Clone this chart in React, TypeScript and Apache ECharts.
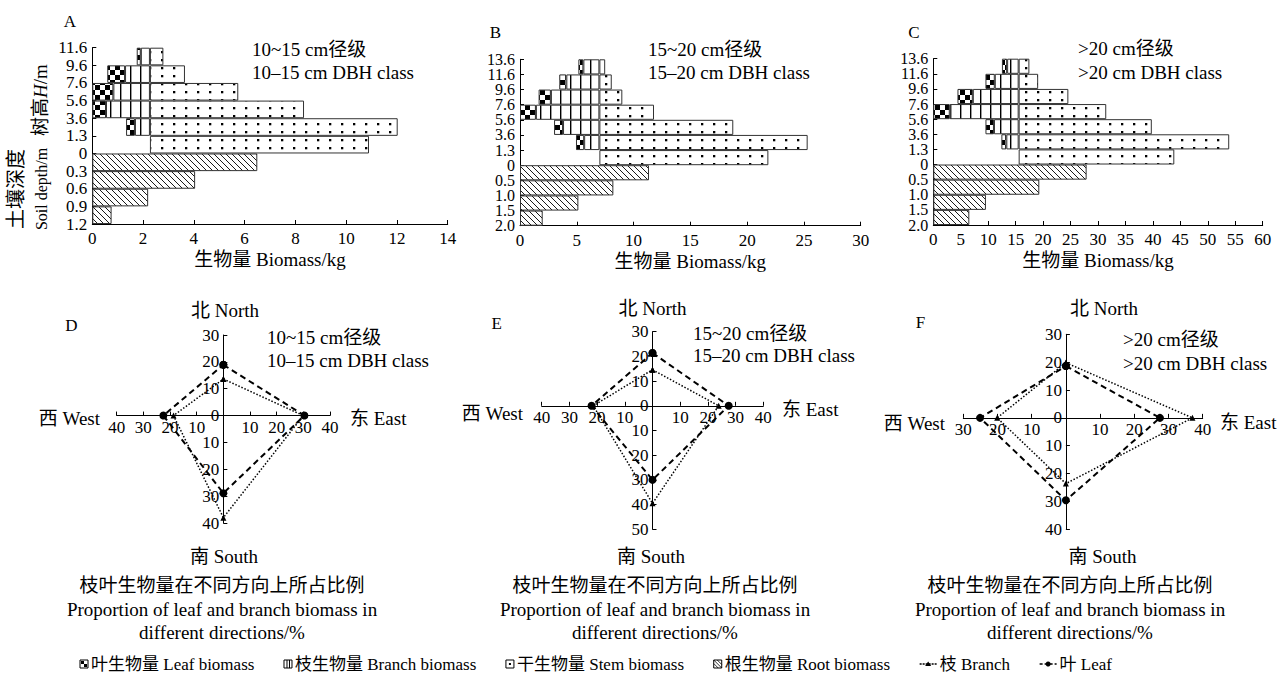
import React, { useEffect, useRef } from 'react';
import * as echarts from 'echarts';

const SERIF = "'Liberation Serif', 'Noto Sans CJK SC', serif";
const NA = '-';

// ---------- Panel A : 10~15 cm (rows bottom -> top)
const aRows = ['0.9-1.2', '0.6-0.9', '0.3-0.6', '0-0.3', '0-1.3', '1.3-3.6', '3.6-5.6', '5.6-7.6', '7.6-9.6', '9.6-11.6'];
const aBounds = ['1.2', '0.9', '0.6', '0.3', '0', '1.3', '3.6', '5.6', '7.6', '9.6', '11.6'];
const aOffset = [NA, NA, NA, NA, 2.27, 1.33, NA, NA, 0.59, 1.75];
const aLeaf = [NA, NA, NA, NA, NA, 0.35, 0.54, 0.83, 0.7, 0.16];
const aBranch = [NA, NA, NA, NA, NA, 0.59, 1.73, 1.44, 0.98, 0.36];
const aStem = [NA, NA, NA, NA, 8.63, 9.76, 6.07, 3.48, 1.38, 0.53];
const aRoot = [0.76, 2.2, 4.05, 6.5, NA, NA, NA, NA, NA, NA];

// ---------- Panel B : 15~20 cm
const bRows = ['1.5-2.0', '1.0-1.5', '0.5-1.0', '0-0.5', '0-1.3', '1.3-3.6', '3.6-5.6', '5.6-7.6', '7.6-9.6', '9.6-11.6', '11.6-13.6'];
const bBounds = ['2.0', '1.5', '1.0', '0.5', '0', '1.3', '3.6', '5.6', '7.6', '9.6', '11.6', '13.6'];
const bOffset = [NA, NA, NA, NA, 6.99, 4.93, 3.0, NA, 1.64, 3.46, 5.14];
const bLeaf = [NA, NA, NA, NA, NA, 0.72, 0.79, 1.4, 1.08, 0.62, 0.44];
const bBranch = [NA, NA, NA, NA, NA, 1.34, 3.2, 5.59, 4.27, 2.91, 1.41];
const bStem = [NA, NA, NA, NA, 14.88, 18.34, 11.79, 4.81, 2.02, 1.09, 0.51];
const bRoot = [2.0, 5.14, 8.22, 11.36, NA, NA, NA, NA, NA, NA, NA];

// ---------- Panel C : >20 cm
const cRows = bRows;
const cBounds = bBounds;
const cOffset = [NA, NA, NA, NA, 15.55, 12.4, 9.5, NA, 4.4, 9.5, 12.5];
const cLeaf = [NA, NA, NA, NA, NA, 0.9, 1.55, 3.0, 2.8, 1.7, 0.95];
const cBranch = [NA, NA, NA, NA, NA, 2.25, 4.5, 12.55, 8.35, 4.35, 2.1];
const cStem = [NA, NA, NA, NA, 28.35, 38.35, 24.25, 15.95, 9.05, 3.55, 1.95];
const cRoot = [6.56, 9.59, 19.31, 27.93, NA, NA, NA, NA, NA, NA, NA];

// ---------- Direction proportions (%) : [North, East, South, West]
const dLeaf = [18.9, 30.4, 28.9, 22.5];
const dBranch = [13.6, 30.0, 38.0, 18.7];
const eLeaf = [21.4, 27.5, 30.0, 22.0];
const eBranch = [14.6, 23.9, 39.5, 21.4];
const fLeaf = [18.6, 27.5, 29.6, 25.1];
const fBranch = [19.8, 37.0, 23.6, 20.1];

// axis ranges of the direction panels: [xMin, xMax, yMin, yMax]
const dRange = [-40, 40, -40, 30];
const eRange = [-40, 40, -50, 30];
const fRange = [-30, 40, -40, 30];

const LEAF_NAME = '叶生物量 Leaf biomass';
const BRANCH_NAME = '枝生物量 Branch biomass';
const STEM_NAME = '干生物量 Stem biomass';
const ROOT_NAME = '根生物量 Root biomass';
const BR_LINE = '枝 Branch';
const LF_LINE = '叶 Leaf';

function svgPat(w: number, h: number, body: string) {
  const svg = `<svg xmlns="http://www.w3.org/2000/svg" width="${w}" height="${h}"><rect width="${w}" height="${h}" fill="#fff"/>${body}</svg>`;
  return {
    image: 'data:image/svg+xml;charset=utf-8,' + encodeURIComponent(svg),
    repeat: 'repeat',
    imageWidth: w,
    imageHeight: h,
  };
}

const leafPat = svgPat(10, 10, '<rect width="5" height="5" fill="#000"/><rect x="5" y="5" width="5" height="5" fill="#000"/>');
const branchPat = svgPat(10, 10, '<rect x="0" y="0" width="1.4" height="10" fill="#000"/>');
const stemPat = svgPat(12, 8, '<rect x="5" y="3" width="2.3" height="2.3" fill="#000"/>');
const rootPat = svgPat(6, 6, '<path d="M-1,-1L7,7M-1,5L1,7M5,-1L7,1" stroke="#000" stroke-width="0.9" fill="none"/>');

function barSeries(idx: number, offset: any[], leaf: any[], branch: any[], stem: any[], root: any[]) {
  const base = {
    type: 'bar',
    xAxisIndex: idx,
    yAxisIndex: idx * 2,
    stack: 'p' + idx,
    barWidth: '100%',
    barCategoryGap: '0%',
    silent: true,
  };
  const border = { borderColor: '#333', borderWidth: 1 };
  return [
    { ...base, name: 'offset' + idx, data: offset, itemStyle: { color: 'rgba(0,0,0,0)', borderWidth: 0 } },
    { ...base, name: LEAF_NAME, data: leaf, itemStyle: { color: leafPat, ...border } },
    { ...base, name: BRANCH_NAME, data: branch, itemStyle: { color: branchPat, ...border } },
    { ...base, name: STEM_NAME, data: stem, itemStyle: { color: stemPat, ...border } },
    { ...base, name: ROOT_NAME, data: root, itemStyle: { color: rootPat, ...border } },
  ];
}

function dirPoints(v: number[]) {
  return [[0, v[0]], [v[1], 0], [0, -v[2]], [-v[3], 0], [0, v[0]]];
}

function dirSeries(k: number, leaf: number[], branch: number[]) {
  const base = { type: 'line', xAxisIndex: 3 + k, yAxisIndex: 6 + k, silent: true, z: 3 };
  return [
    {
      ...base,
      name: BR_LINE,
      data: dirPoints(branch),
      symbol: 'triangle',
      symbolSize: 6,
      itemStyle: { color: '#000' },
      lineStyle: { color: '#000', width: 1.5, type: [1.5, 1.8] },
    },
    {
      ...base,
      name: LF_LINE,
      data: dirPoints(leaf),
      symbol: 'circle',
      symbolSize: 8,
      itemStyle: { color: '#000' },
      lineStyle: { color: '#000', width: 2, type: [6, 4] },
    },
  ];
}

const axisLineStyle = { color: '#000', width: 1 };
const tickFont = { color: '#000', fontSize: 17, fontFamily: SERIF };

function topX(grid: number, max: number, interval: number) {
  return {
    gridIndex: grid,
    type: 'value',
    min: 0,
    max,
    interval,
    axisLine: { show: true, onZero: false, lineStyle: axisLineStyle },
    axisTick: { show: true, inside: true, length: 4, lineStyle: axisLineStyle },
    axisLabel: { ...tickFont, margin: 6, hideOverlap: false },
    splitLine: { show: false },
    name: '生物量 Biomass/kg',
    nameLocation: 'middle',
    nameGap: 26,
    nameTextStyle: { color: '#000', fontSize: 19, fontFamily: SERIF },
  };
}

function topY(grid: number, rows: string[], bounds: string[], fontSize: number, lineHeight: number) {
  return [
    // row axis used by the bars (one band per height / depth class)
    { gridIndex: grid, type: 'category', data: rows, show: false, position: 'left' },
    // boundary axis: labels sit on the class limits
    {
      gridIndex: grid,
      type: 'category',
      data: bounds,
      boundaryGap: false,
      position: 'left',
      axisLine: { show: true, onZero: false, lineStyle: axisLineStyle },
      axisTick: { show: true, inside: true, length: 4, interval: 0, lineStyle: axisLineStyle },
      axisLabel: {
        ...tickFont,
        fontSize,
        lineHeight,
        margin: 5,
        interval: 0,
        hideOverlap: false,
      },
      splitLine: { show: false },
    },
  ];
}

type G = { left: number; top: number; width: number; height: number };

function dirX(grid: number, g: G, r: number[]) {
  // place the horizontal axis on the zero line of the vertical axis
  const off = -(g.height * (0 - r[2])) / (r[3] - r[2]);
  return {
    gridIndex: grid,
    type: 'value',
    min: r[0],
    max: r[1],
    interval: 10,
    offset: off,
    axisLine: { show: true, onZero: false, lineStyle: axisLineStyle },
    axisTick: { show: true, inside: true, length: 4, lineStyle: axisLineStyle },
    axisLabel: {
      ...tickFont,
      margin: 3,
      hideOverlap: false,
      showMinLabel: true,
      showMaxLabel: true,
      formatter: (v: number) => (v === 0 ? '' : String(Math.abs(v))),
    },
    splitLine: { show: false },
  };
}

function dirY(grid: number, g: G, r: number[]) {
  const off = -(g.width * (0 - r[0])) / (r[1] - r[0]);
  return {
    gridIndex: grid,
    type: 'value',
    min: r[2],
    max: r[3],
    interval: 10,
    offset: off,
    axisLine: { show: true, onZero: false, lineStyle: axisLineStyle },
    axisTick: { show: true, inside: true, length: 4, lineStyle: axisLineStyle },
    axisLabel: {
      ...tickFont,
      margin: 4,
      hideOverlap: false,
      showMinLabel: true,
      showMaxLabel: true,
      formatter: (v: number) => String(Math.abs(v)),
    },
    splitLine: { show: false },
  };
}

function txt(text: string, x: number, y: number, size = 19, align = 'left', extra: any = {}) {
  return {
    type: 'text',
    x,
    y,
    silent: true,
    style: {
      text,
      font: `${size}px ${SERIF}`,
      fill: '#000',
      align,
      verticalAlign: 'middle',
      textAlign: align,
      textVerticalAlign: 'middle',
    },
    ...extra,
  };
}

function buildLegend(): any[] {
  const size = 17;
  const font = `${size}px ${SERIF}`;
  let measure = (s: string) => s.length * size * 0.5;
  try {
    const ctx = document.createElement('canvas').getContext('2d');
    if (ctx) {
      ctx.font = font;
      measure = (s: string) => ctx.measureText(s).width;
    }
  } catch (e) {
    /* fallback */
  }
  const items = [
    { kind: 'leaf', text: LEAF_NAME, iw: 8 },
    { kind: 'branch', text: BRANCH_NAME, iw: 8 },
    { kind: 'stem', text: STEM_NAME, iw: 8 },
    { kind: 'root', text: ROOT_NAME, iw: 8 },
    { kind: 'bline', text: BR_LINE, iw: 17 },
    { kind: 'lline', text: LF_LINE, iw: 17 },
  ];
  const iconGap = 3;
  const start = 80;
  const end = 1112;
  const widths = items.map((it) => it.iw + iconGap + measure(it.text));
  const total = widths.reduce((a, b) => a + b, 0);
  const gap = Math.max(8, (end - start - total) / (items.length - 1));
  const yc = 664;
  const els: any[] = [];
  let x = start;
  const stroke = { stroke: '#000', lineWidth: 1 };
  items.forEach((it, i) => {
    const y0 = yc - 4;
    if (it.kind === 'leaf') {
      els.push({ type: 'rect', shape: { x, y: y0, width: 8, height: 8 }, style: { fill: '#fff', ...stroke }, silent: true });
      els.push({ type: 'rect', shape: { x: x + 1, y: y0 + 1, width: 3, height: 3 }, style: { fill: '#000' }, silent: true });
      els.push({ type: 'rect', shape: { x: x + 4, y: y0 + 4, width: 3, height: 3 }, style: { fill: '#000' }, silent: true });
    } else if (it.kind === 'branch') {
      els.push({ type: 'rect', shape: { x, y: y0, width: 8, height: 8 }, style: { fill: '#fff', ...stroke }, silent: true });
      els.push({ type: 'line', shape: { x1: x + 3, y1: y0, x2: x + 3, y2: y0 + 8 }, style: stroke, silent: true });
      els.push({ type: 'line', shape: { x1: x + 5.5, y1: y0, x2: x + 5.5, y2: y0 + 8 }, style: stroke, silent: true });
    } else if (it.kind === 'stem') {
      els.push({ type: 'rect', shape: { x, y: y0, width: 8, height: 8 }, style: { fill: '#fff', ...stroke }, silent: true });
      els.push({ type: 'rect', shape: { x: x + 3, y: y0 + 3, width: 2, height: 2 }, style: { fill: '#000' }, silent: true });
    } else if (it.kind === 'root') {
      els.push({ type: 'rect', shape: { x, y: y0, width: 8, height: 8 }, style: { fill: '#fff', ...stroke }, silent: true });
      els.push({ type: 'line', shape: { x1: x, y1: y0, x2: x + 8, y2: y0 + 8 }, style: { stroke: '#000', lineWidth: 0.8 }, silent: true });
      els.push({ type: 'line', shape: { x1: x + 3.5, y1: y0, x2: x + 8, y2: y0 + 4.5 }, style: { stroke: '#000', lineWidth: 0.8 }, silent: true });
      els.push({ type: 'line', shape: { x1: x, y1: y0 + 3.5, x2: x + 4.5, y2: y0 + 8 }, style: { stroke: '#000', lineWidth: 0.8 }, silent: true });
    } else if (it.kind === 'bline') {
      els.push({ type: 'line', shape: { x1: x, y1: yc, x2: x + 17, y2: yc }, style: { stroke: '#000', lineWidth: 1.5, lineDash: [2, 1] }, silent: true });
      els.push({ type: 'polygon', shape: { points: [[x + 8.5, yc - 2.5], [x + 11.5, yc + 2], [x + 5.5, yc + 2]] }, style: { fill: '#000' }, silent: true });
    } else {
      els.push({ type: 'line', shape: { x1: x, y1: yc, x2: x + 17, y2: yc }, style: { stroke: '#000', lineWidth: 1.5, lineDash: [3, 2] }, silent: true });
      els.push({ type: 'circle', shape: { cx: x + 8.5, cy: yc, r: 2.5 }, style: { fill: '#000' }, silent: true });
    }
    els.push(txt(it.text, x + it.iw + iconGap, yc, size, 'left'));
    x += widths[i] + gap;
  });
  return els;
}

function buildOption() {
  const gridBoxes: G[] = [
    { left: 92.3, top: 47.7, width: 355.4, height: 176.3 },
    { left: 520, top: 59.3, width: 340.7, height: 166.4 },
    { left: 933.3, top: 58.7, width: 329.4, height: 166.3 },
    { left: 116.7, top: 335, width: 213.3, height: 188 },
    { left: 541.7, top: 331.7, width: 221.6, height: 197.6 },
    { left: 963.3, top: 334.3, width: 239.4, height: 195 },
  ];
  const grids = gridBoxes.map((g) => ({ ...g, containLabel: false, outerBoundsMode: 'none' }));

  const xAxis = [
    topX(0, 14, 2),
    topX(1, 30, 5),
    topX(2, 60, 5),
    dirX(3, gridBoxes[3], dRange),
    dirX(4, gridBoxes[4], eRange),
    dirX(5, gridBoxes[5], fRange),
  ];
  const yAxis = [
    ...topY(0, aRows, aBounds, 17, 16),
    ...topY(1, bRows, bBounds, 16, 14),
    ...topY(2, cRows, cBounds, 16, 14),
    dirY(3, gridBoxes[3], dRange),
    dirY(4, gridBoxes[4], eRange),
    dirY(5, gridBoxes[5], fRange),
  ];
  const series = [
    ...barSeries(0, aOffset, aLeaf, aBranch, aStem, aRoot),
    ...barSeries(1, bOffset, bLeaf, bBranch, bStem, bRoot),
    ...barSeries(2, cOffset, cLeaf, cBranch, cStem, cRoot),
    ...dirSeries(0, dLeaf, dBranch),
    ...dirSeries(1, eLeaf, eBranch),
    ...dirSeries(2, fLeaf, fBranch),
  ];

  const capZh = '枝叶生物量在不同方向上所占比例';
  const capEn1 = 'Proportion of leaf and branch biomass in';
  const capEn2 = 'different directions/%';

  const graphics: any[] = [
    // panel letters
    txt('A', 70, 21, 17, 'center'),
    txt('B', 495.5, 32, 17, 'center'),
    txt('C', 914, 32, 17, 'center'),
    txt('D', 71.5, 325, 17, 'center'),
    txt('E', 496.7, 323, 17, 'center'),
    txt('F', 920.5, 322, 17, 'center'),
    // class annotations top
    txt('10~15 cm径级', 252, 49, 19),
    txt('10–15 cm DBH class', 252, 72, 19),
    txt('15~20 cm径级', 648, 49, 19),
    txt('15–20 cm DBH class', 648, 72, 19),
    txt('>20 cm径级', 1078, 48, 19),
    txt('>20 cm DBH class', 1078, 72, 19),
    // y-axis names of A
    {
      type: 'text',
      x: 40,
      y: 100,
      rotation: Math.PI / 2,
      silent: true,
      style: {
        text: '{a|树高}{i|H}{a|/m}',
        font: `19px ${SERIF}`,
        fill: '#000',
        align: 'center',
        verticalAlign: 'middle',
        textAlign: 'center',
        textVerticalAlign: 'middle',
        rich: {
          a: { fontSize: 19, fontFamily: SERIF, fill: '#000', color: '#000' },
          i: { fontSize: 19, fontFamily: SERIF, fontStyle: 'italic', fill: '#000', color: '#000' },
        },
      },
    },
    txt('土壤深度', 16, 189, 20, 'center', { rotation: Math.PI / 2 }),
    txt('Soil depth/m', 41, 189, 16, 'center', { rotation: Math.PI / 2 }),
    // D
    txt('北 North', 225, 310, 19, 'center'),
    txt('南 South', 224, 556, 19, 'center'),
    txt('西 West', 100, 418, 19, 'right'),
    txt('东 East', 350, 418, 19, 'left'),
    txt('10~15 cm径级', 267, 337, 19),
    txt('10–15 cm DBH class', 267, 360, 19),
    txt(capZh, 222, 585, 19, 'center'),
    txt(capEn1, 222, 609, 19, 'center'),
    txt(capEn2, 222, 632, 19, 'center'),
    // E
    txt('北 North', 652.5, 308, 19, 'center'),
    txt('南 South', 651, 556, 19, 'center'),
    txt('西 West', 523, 413, 19, 'right'),
    txt('东 East', 782, 409, 19, 'left'),
    txt('15~20 cm径级', 693, 333, 19),
    txt('15–20 cm DBH class', 693, 355, 19),
    txt(capZh, 655, 585, 19, 'center'),
    txt(capEn1, 655, 609, 19, 'center'),
    txt(capEn2, 655, 632, 19, 'center'),
    // F
    txt('北 North', 1104, 308, 19, 'center'),
    txt('南 South', 1102.5, 556, 19, 'center'),
    txt('西 West', 945, 423, 19, 'right'),
    txt('东 East', 1220, 422, 19, 'left'),
    txt('>20 cm径级', 1123, 339, 19),
    txt('>20 cm DBH class', 1123, 363, 19),
    txt(capZh, 1070, 585, 19, 'center'),
    txt(capEn1, 1070, 609, 19, 'center'),
    txt(capEn2, 1070, 632, 19, 'center'),
    ...buildLegend(),
  ];

  return {
    animation: false,
    backgroundColor: '#fff',
    textStyle: { fontFamily: SERIF, color: '#000' },
    grid: grids,
    xAxis,
    yAxis,
    series,
    graphic: { elements: graphics },
  };
}

export default function App() {
  const ref = useRef<HTMLDivElement>(null);
  useEffect(() => {
    if (!ref.current) return;
    const chart = echarts.init(ref.current, null, { renderer: 'svg' });
    chart.setOption(buildOption() as any);
    return () => chart.dispose();
  }, []);
  return (
    <div
      ref={ref}
      style={{ position: 'fixed', left: 0, top: 0, width: 1279, height: 679, background: '#fff' }}
    />
  );
}
